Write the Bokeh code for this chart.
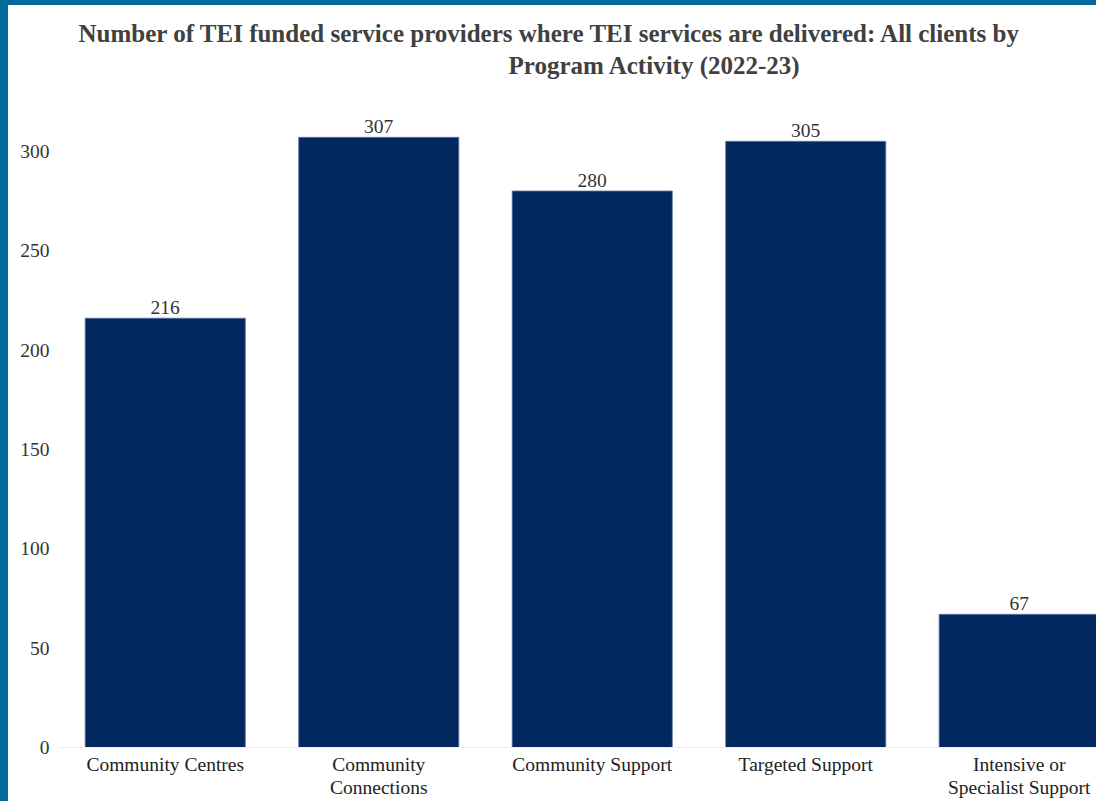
from bokeh.plotting import figure
from bokeh.models import ColumnDataSource, Range1d, FixedTicker, Title
from bokeh.embed import file_html
from bokeh.resources import INLINE

categories = ["Community Centres", "Community\nConnections", "Community Support",
              "Targeted Support", "Intensive or\nSpecialist Support"]
values = [216, 307, 280, 305, 67]
y_ticks = [0, 50, 100, 150, 200, 250, 300]

FONT = "Liberation Serif"
x_pos = list(range(len(categories)))
src = ColumnDataSource(dict(x=x_pos, top=values, label=[str(v) for v in values]))

p = figure(width=1096, height=801, output_backend="svg", toolbar_location=None,
           x_range=Range1d(-0.5, 4.362), y_range=Range1d(0, 320),
           min_border_left=50, min_border_right=8, min_border_bottom=59, min_border_top=106)
p.styles = {"border-left": "8px solid #016a9c", "border-top": "5px solid #016a9c"}
p.outline_line_color = None
p.background_fill_color = "white"
p.border_fill_color = "white"

p.vbar(x="x", top="top", width=0.75, source=src, fill_color="#02285f",
       line_color="#5d76a2", line_width=0.8)
p.text(x="x", y="top", text="label", source=src, text_align="center",
       text_baseline="alphabetic", y_offset=-11, text_font_size="19.5px",
       text_font={"value": FONT}, text_color="#333333")

p.xgrid.visible = False
p.ygrid.visible = False

p.xaxis.ticker = FixedTicker(ticks=x_pos)
p.xaxis.major_label_overrides = {i: c for i, c in enumerate(categories)}
p.xaxis.axis_line_color = "#eeeeee"
p.xaxis.major_tick_line_color = None
p.xaxis.minor_tick_line_color = None
p.xaxis.major_label_text_font = FONT
p.xaxis.major_label_text_font_size = "19.5px"
p.xaxis.major_label_text_line_height = 1.12
p.xaxis.major_label_text_color = "#222222"
p.xaxis.major_label_standoff = 0

p.yaxis.ticker = FixedTicker(ticks=y_ticks)
p.yaxis.axis_line_color = None
p.yaxis.major_tick_line_color = None
p.yaxis.minor_tick_line_color = None
p.yaxis.major_label_text_font = FONT
p.yaxis.major_label_text_font_size = "19.5px"
p.yaxis.major_label_text_color = "#333333"
p.yaxis.major_label_standoff = 3

spacer = Title(text=" ", text_font_size="17px")
t2 = Title(text="Program Activity (2022-23)", align="left", offset=450, standoff=4,
           text_font=FONT, text_font_size="25px", text_font_style="bold", text_color="#404040")
t1 = Title(text="Number of TEI funded service providers where TEI services are delivered: All clients by",
           align="left", offset=20, standoff=2,
           text_font=FONT, text_font_size="25px", text_font_style="bold", text_color="#404040")
p.add_layout(spacer, "above")
p.add_layout(t2, "above")
p.add_layout(t1, "above")

open("out.html", "w").write(file_html(p, INLINE))
